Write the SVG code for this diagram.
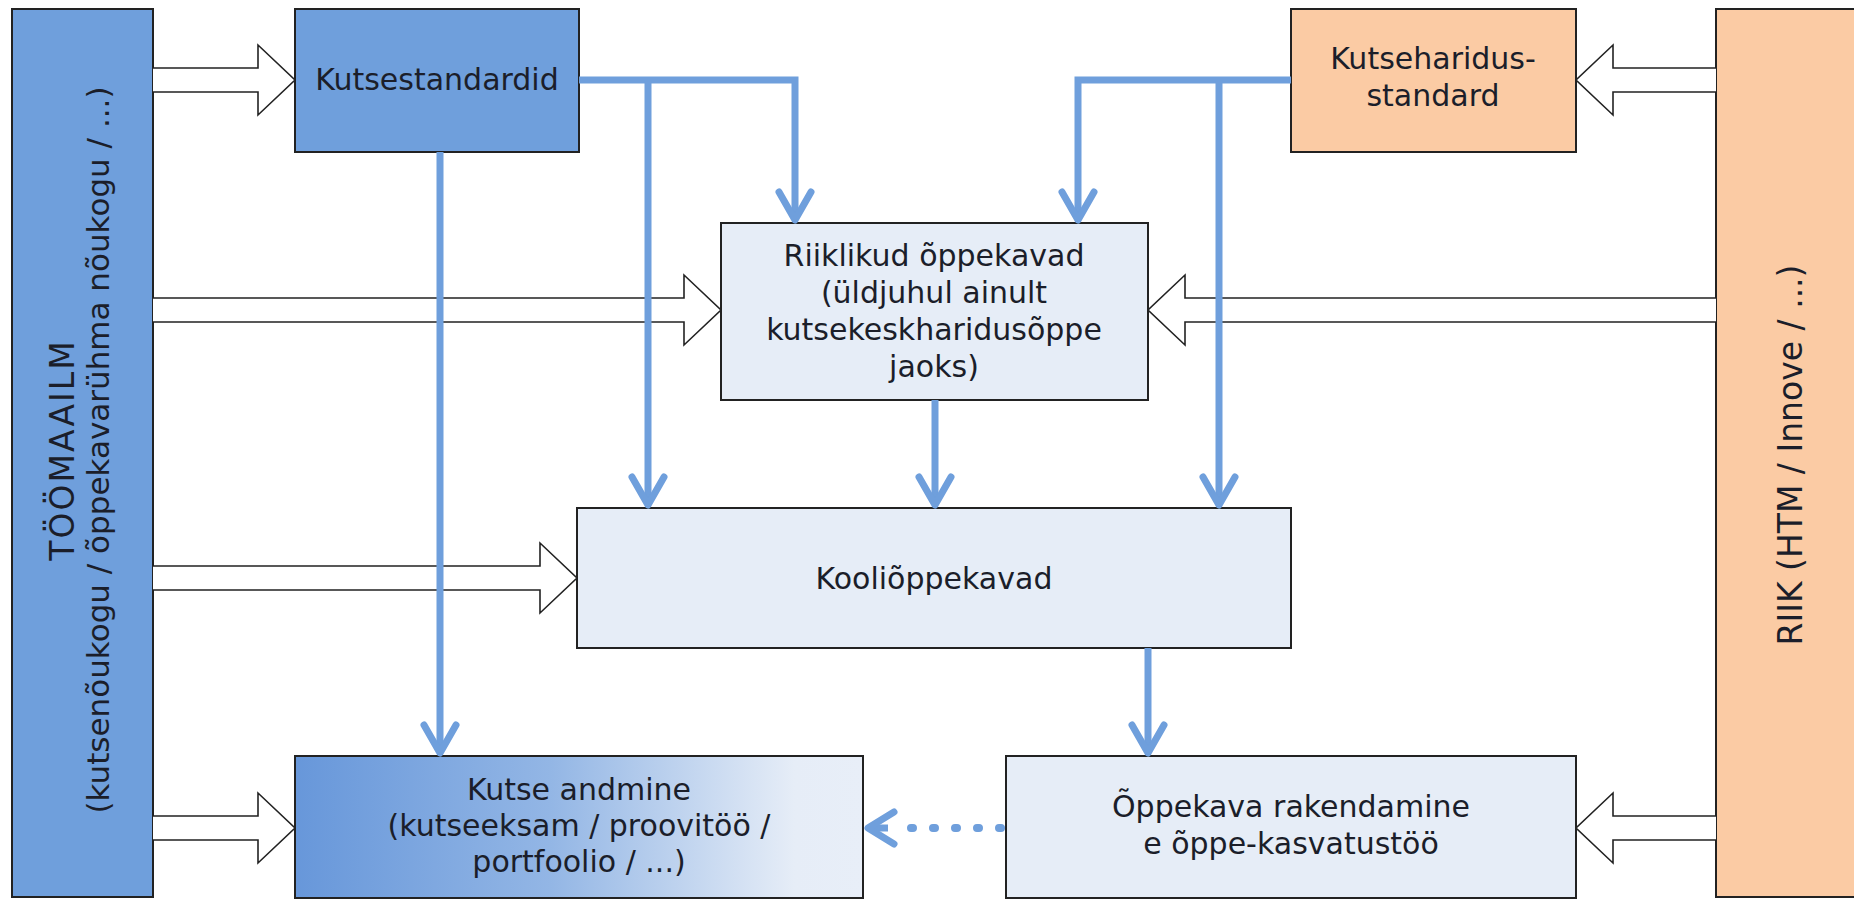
<svg xmlns="http://www.w3.org/2000/svg" width="1854" height="899" viewBox="0 0 1854 899">
<defs>
<linearGradient id="gradKA" x1="0" y1="0" x2="1" y2="0">
<stop offset="0" stop-color="#6797da"/>
<stop offset="0.45" stop-color="#93b6e5"/>
<stop offset="0.88" stop-color="#e6edf7"/>
<stop offset="1" stop-color="#e8eef8"/>
</linearGradient>
<marker id="ah" viewBox="0 0 40 40" refX="34" refY="20" markerWidth="40" markerHeight="40" markerUnits="userSpaceOnUse" orient="auto">
<path d="M6 4 L34 20 L6 36" fill="none" stroke="#6f9fdc" stroke-width="7" stroke-linecap="round" stroke-linejoin="round"/>
</marker>
<marker id="ahd" viewBox="0 0 40 40" refX="34" refY="20" markerWidth="40" markerHeight="40" markerUnits="userSpaceOnUse" orient="auto">
<path d="M8 4 L34 20 L8 36" fill="none" stroke="#6f9fdc" stroke-width="7" stroke-linecap="round" stroke-linejoin="round"/>
</marker>
</defs>
<style>
.box{stroke:#222;stroke-width:2}
.blue{fill:#6f9fdc}
.peach{fill:#fbcba4}
.light{fill:#e6edf7}
.t{font-family:"DejaVu Sans","Liberation Sans",sans-serif;font-size:30px;fill:#1b1e2a;text-anchor:middle}
.tv{font-size:31px}
.hollow{fill:#fff;stroke:#222;stroke-width:1.6;stroke-linejoin:miter}
.conn{fill:none;stroke:#6f9fdc;stroke-width:7;stroke-linejoin:miter}
.dash{fill:none;stroke:#6f9fdc;stroke-width:8;stroke-linecap:round;stroke-dasharray:2 20}
</style>
<rect width="1854" height="899" fill="#fff"/>

<g id="toomaailm">
<rect class="box blue" x="12" y="9" width="141" height="888"/>
<text class="t tv" transform="translate(83 450) rotate(-90)"><tspan x="0" y="-9" style="font-size:33px;letter-spacing:2px">TÖÖMAAILM</tspan><tspan x="0" y="26">(kutsenõukogu / õppekavarühma nõukogu / ...)</tspan></text>
</g>

<g id="riik">
<rect class="box peach" x="1716" y="9" width="140" height="888"/>
<text class="t" style="font-size:33px" transform="translate(1785 455) rotate(-90)" x="0" y="17">RIIK (HTM / Innove / ...)</text>
</g>

<g id="kutsestandardid">
<rect class="box blue" x="295" y="9" width="284" height="143"/>
<text class="t" x="437" y="90">Kutsestandardid</text>
</g>

<g id="kutseharidusstandard">
<rect class="box peach" x="1291" y="9" width="285" height="143"/>
<text class="t" x="1433" y="69">Kutseharidus-</text>
<text class="t" x="1433" y="106">standard</text>
</g>

<g id="riiklikud">
<rect class="box light" x="721" y="223" width="427" height="177"/>
<text class="t" x="934" y="266">Riiklikud õppekavad</text>
<text class="t" x="934" y="303">(üldjuhul ainult</text>
<text class="t" x="934" y="340">kutsekeskharidusõppe</text>
<text class="t" x="934" y="377">jaoks)</text>
</g>

<g id="kooliopekavad">
<rect class="box light" x="577" y="508" width="714" height="140"/>
<text class="t" x="934" y="589">Kooliõppekavad</text>
</g>

<g id="kutseandmine">
<rect class="box" fill="url(#gradKA)" x="295" y="756" width="568" height="142"/>
<text class="t" x="579" y="800">Kutse andmine</text>
<text class="t" x="579" y="836">(kutseeksam / proovitöö /</text>
<text class="t" x="579" y="872">portfoolio / ...)</text>
</g>

<g id="oppekavarakendamine">
<rect class="box light" x="1006" y="756" width="570" height="142"/>
<text class="t" x="1291" y="817">Õppekava rakendamine</text>
<text class="t" x="1291" y="854">e õppe-kasvatustöö</text>
</g>

<g id="connectors">
<g id="hollow-arrows">
<path class="hollow" d="M153 68 H258 V45 L295 80 L258 115 V92 H153"/>
<path class="hollow" d="M153 298 H684 V275 L721 310 L684 345 V322 H153"/>
<path class="hollow" d="M153 566 H540 V543 L577 578 L540 613 V590 H153"/>
<path class="hollow" d="M153 816 H258 V793 L295 828 L258 863 V840 H153"/>
<path class="hollow" d="M1716 68 H1613 V45 L1576 80 L1613 115 V92 H1716"/>
<path class="hollow" d="M1716 298 H1185 V275 L1148 310 L1185 345 V322 H1716"/>
<path class="hollow" d="M1716 816 H1613 V793 L1576 828 L1613 863 V840 H1716"/>
</g>
<path class="conn" d="M579 80 H795 V220" marker-end="url(#ah)"/>
<path class="conn" d="M648 80 V505" marker-end="url(#ah)"/>
<path class="conn" d="M440 152 V753" marker-end="url(#ah)"/>
<path class="conn" d="M1291 80 H1078 V220" marker-end="url(#ah)"/>
<path class="conn" d="M1219 80 V505" marker-end="url(#ah)"/>
<path class="conn" d="M935 400 V505" marker-end="url(#ah)"/>
<path class="conn" d="M1148 648 V753" marker-end="url(#ah)"/>
<path class="dash" d="M1001 828 H905"/>
<path class="conn" d="M888 828 H868" marker-end="url(#ahd)"/>
</g>
</svg>
